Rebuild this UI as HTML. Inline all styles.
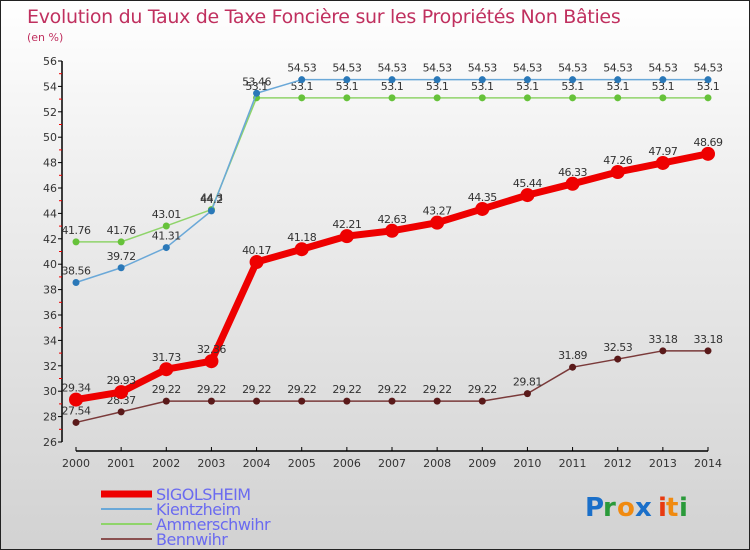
<!DOCTYPE html>
<html><head><meta charset="utf-8"><style>
body{margin:0;}
#c{width:750px;height:550px;position:relative;background:linear-gradient(#fff 0%,#f0f0f0 30%,#d2d2d2 100%);box-sizing:border-box;border:1px solid #222;overflow:hidden;font-family:"DejaVu Sans","Liberation Sans",sans-serif;}
svg text{font-family:"DejaVu Sans","Liberation Sans",sans-serif;}
</style></head><body>
<div id="c">
<svg id="s" width="750" height="550" xmlns="http://www.w3.org/2000/svg">
<text x="26" y="22" font-size="19" fill="#c0305f" letter-spacing="-0.3">Evolution du Taux de Taxe Foncière sur les Propriétés Non Bâties</text>
<text x="26" y="40" font-size="11" fill="#c0305f">(en %)</text>
<g id="axes"></g><g id="series"></g><g id="legend"></g>
<g font-size="26" font-weight="bold">
<text x="584" y="515" fill="#1a6fc9">P</text><text x="602" y="515" fill="#2a9a3a">r</text><text x="616" y="515" fill="#f08a10">o</text><text x="634" y="515" fill="#1a6fc9">x</text><text x="657" y="515" fill="#e83a10">i</text><text x="665" y="515" fill="#f08a10">t</text><text x="678" y="515" fill="#2a9a3a">i</text>
</g>
</svg>
</div>
<script>
const years=[2000,2001,2002,2003,2004,2005,2006,2007,2008,2009,2010,2011,2012,2013,2014];
const sigolsheim=[29.34,29.93,31.73,32.36,40.17,41.18,42.21,42.63,43.27,44.35,45.44,46.33,47.26,47.97,48.69];
const kientzheim=[38.56,39.72,41.31,44.2,53.46,54.53,54.53,54.53,54.53,54.53,54.53,54.53,54.53,54.53,54.53];
const ammerschwihr=[41.76,41.76,43.01,44.3,53.1,53.1,53.1,53.1,53.1,53.1,53.1,53.1,53.1,53.1,53.1];
const bennwihr=[27.54,28.37,29.22,29.22,29.22,29.22,29.22,29.22,29.22,29.22,29.81,31.89,32.53,33.18,33.18];
const yTicks=[26,28,30,32,34,36,38,40,42,44,46,48,50,52,54,56];
const NS="http://www.w3.org/2000/svg";
const x=i=>75+i*(707-75)/(years.length-1);
const y=v=>441-(v-26)*(441-60)/30;
function mk(tag,attrs,parent){const e=document.createElementNS(NS,tag);for(const k in attrs)e.setAttribute(k,attrs[k]);parent.appendChild(e);return e;}
const ax=document.getElementById('axes');
let yl=mk('line',{x1:61,y1:60,x2:61,y2:441,stroke:'#000','stroke-width':1.5},ax);


yTicks.forEach((t,i)=>{
 mk('line',{x1:57,y1:y(t),x2:61,y2:y(t),stroke:'#000'},ax);
 if(i<yTicks.length-1)mk('line',{x1:58,y1:y(t+1),x2:61,y2:y(t+1),stroke:'#e00'},ax);
 const tx=mk('text',{x:56,y:y(t)+4,'font-size':11,fill:'#333','text-anchor':'end'},ax);tx.textContent=t;
 
 
});
let xl=mk('line',{x1:75,y1:450,x2:707,y2:450,stroke:'#000','stroke-width':1.5},ax);


years.forEach((yr,i)=>{
 mk('line',{x1:x(i),y1:446,x2:x(i),y2:450,stroke:'#000'},ax);
 const tx=mk('text',{x:x(i),y:466,'font-size':11,fill:'#333','text-anchor':'middle'},ax);tx.textContent=yr;
 
 
});
const series=[
 {name:'bennwihr',vals:bennwihr,color:'#7a3a3a',dot:'#5a1a1a',w:1.5,r:3.5},
 {name:'ammerschwihr',vals:ammerschwihr,color:'#8fd46a',dot:'#66c23a',w:1.5,r:3.5},
 {name:'kientzheim',vals:kientzheim,color:'#6aa8d8',dot:'#2a78b8',w:1.5,r:3.5},
 {name:'sigolsheim',vals:sigolsheim,color:'#ee0000',dot:'#ee0000',w:7,r:7}
];
const sg=document.getElementById('series');
series.forEach(s=>{
 const g=mk('g',{},sg);
 
 
 const l=mk('polyline',{points:s.vals.map((v,i)=>x(i)+','+y(v)).join(' '),fill:'none',stroke:s.color,'stroke-width':s.w,'stroke-linejoin':'round'},g);
 
 
 s.vals.forEach((v,i)=>{
  const c=mk('circle',{cx:x(i),cy:y(v),r:s.r,fill:s.dot},g);
  
  
  const t=mk('text',{x:x(i),y:y(v)-8,'font-size':11,fill:'#333','text-anchor':'middle','letter-spacing':'-0.5'},g);
  t.textContent=v;
  
  
 });
});
const lg=document.getElementById('legend');
const leg=[['SIGOLSHEIM','#ee0000',7],['Kientzheim','#6aa8d8',2],['Ammerschwihr','#8fd46a',2],['Bennwihr','#8a5050',2]];
leg.forEach((e,i)=>{
 const yy=493+i*15;
 const g=mk('g',{},lg);
 
 
 mk('line',{x1:100,y1:yy,x2:151,y2:yy,stroke:e[1],'stroke-width':e[2]},g);
 const t=mk('text',{x:155,y:yy+6,'font-size':16,fill:'#6a6af0','letter-spacing':'-0.5'},g);t.textContent=e[0];
});
</script>
</body></html>
